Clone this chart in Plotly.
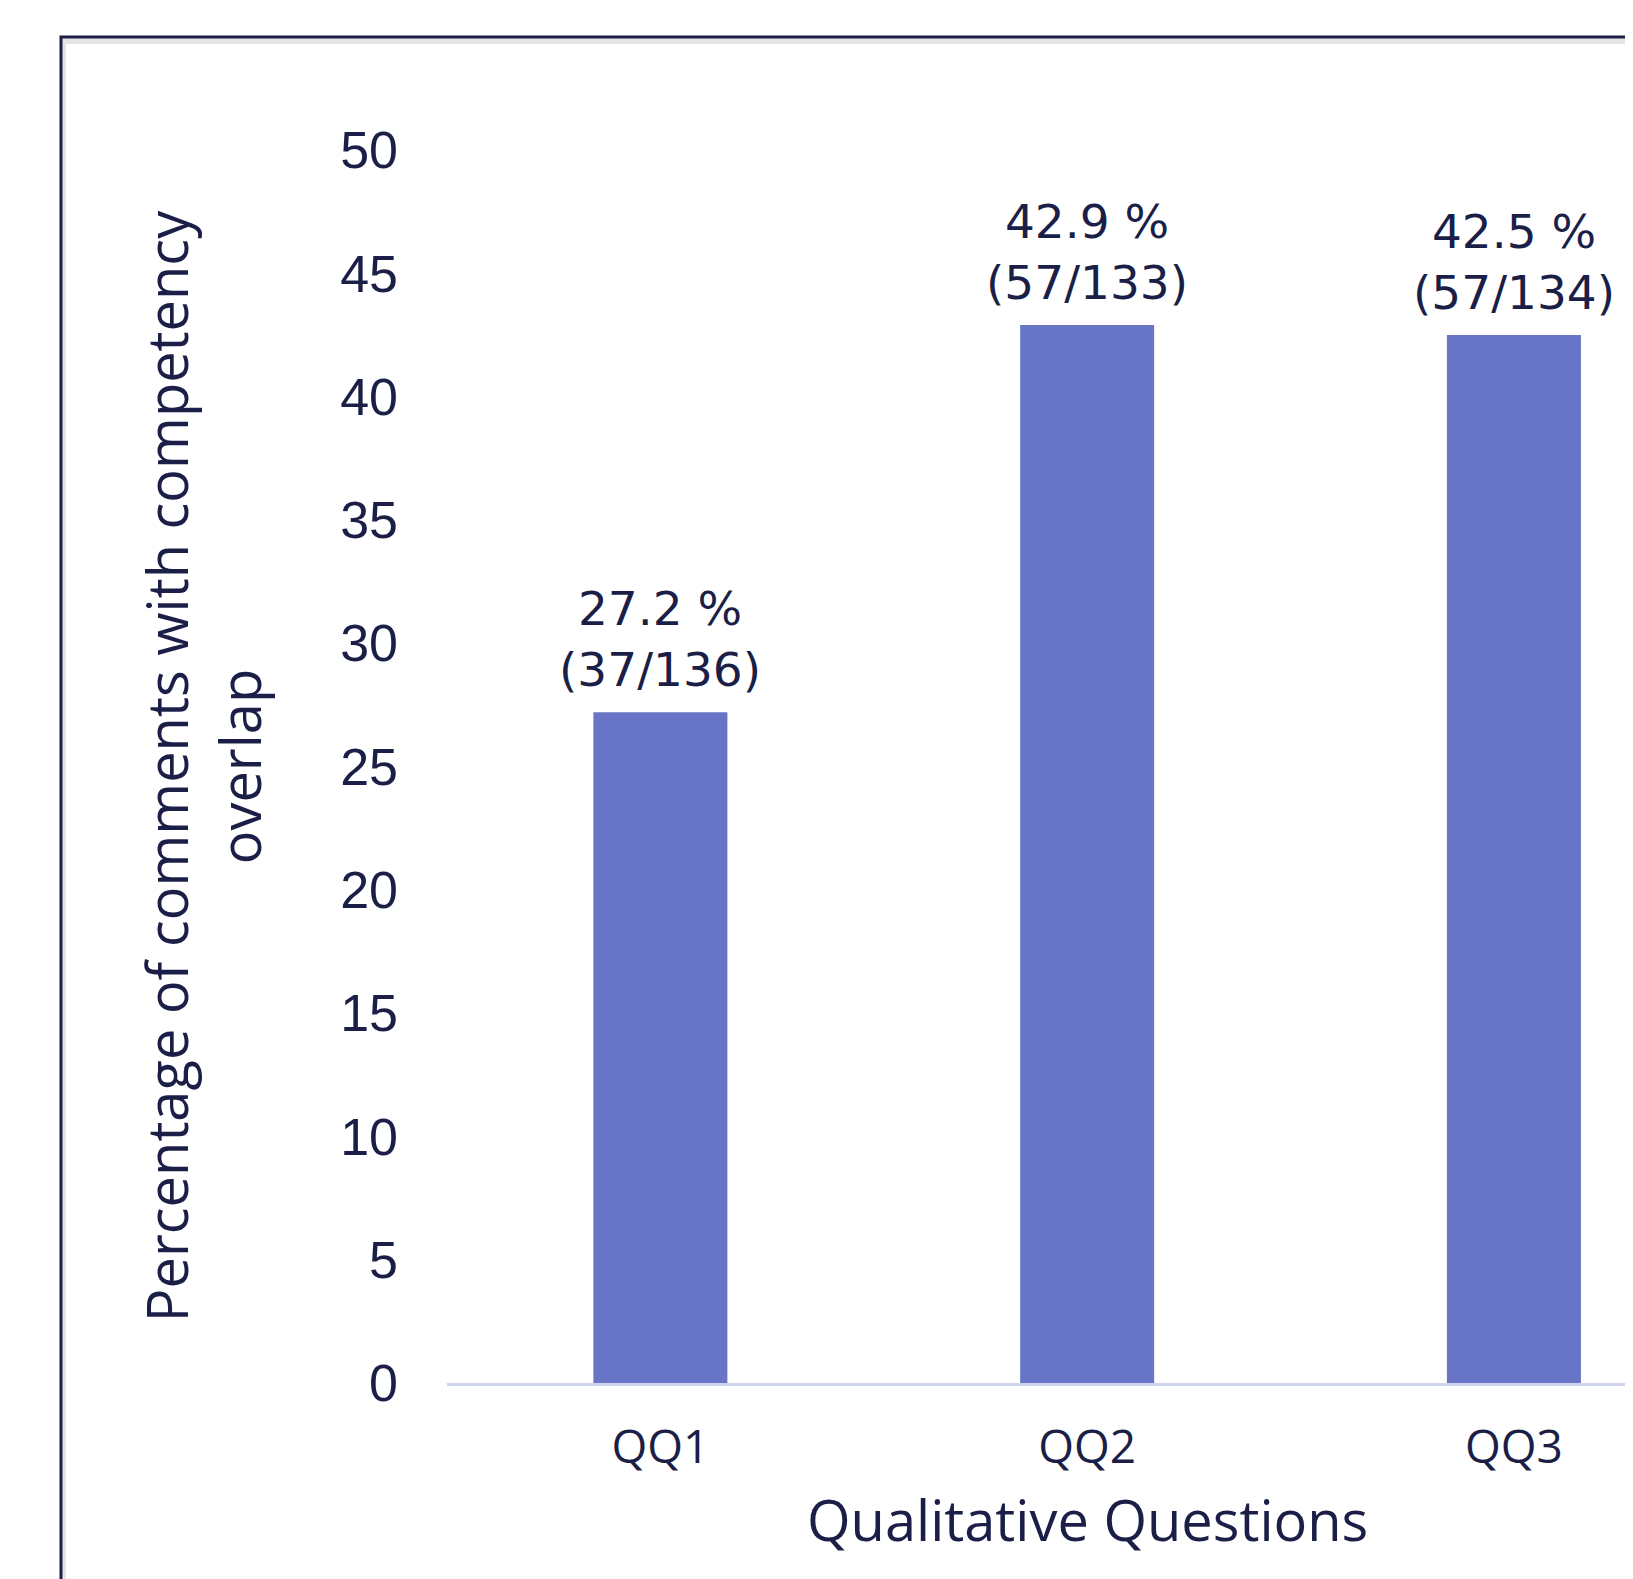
import plotly.graph_objects as go

categories = ["QQ1", "QQ2", "QQ3"]
percentages = [27.2, 42.9, 42.5]
counts = ["37/136", "57/133", "57/134"]
y_ticks = [0, 5, 10, 15, 20, 25, 30, 35, 40, 45, 50]

NAVY = "#1b1f47"
BAR = "#6874c6"

labels = [f"{p} %<br>({c})" for p, c in zip(percentages, counts)]

# the page body adds an 8px offset; figure coords = reference coords - 8
W, H = 1625, 1571
L, R, T, B = 439, 0, 142, 196

fig = go.Figure(
    go.Bar(
        x=categories,
        y=percentages,
        width=0.314,
        marker=dict(color=BAR, line=dict(width=0)),
        cliponaxis=False,
        hoverinfo="x+y",
    )
)

# data labels above each bar
for cat, val, lab in zip(categories, percentages, labels):
    fig.add_annotation(
        x=cat, y=val, xref="x", yref="y",
        text=lab, showarrow=False,
        xanchor="center", yanchor="bottom",
        yshift=13,
        font=dict(family="DejaVu Sans, sans-serif", size=47, color=NAVY),
    )

fig.update_layout(
    width=W,
    height=H,
    margin=dict(l=L, r=R, t=T, b=B, autoexpand=False),
    plot_bgcolor="white",
    paper_bgcolor="white",
    showlegend=False,
    xaxis=dict(
        type="category",
        range=[-0.5, 2.279],
        showline=True,
        linecolor="#d0d4ee",
        linewidth=3,
        showgrid=False,
        ticks="",
        tickfont=dict(family="Open Sans, sans-serif", size=46, color=NAVY),
        ticklabelstandoff=22,
    ),
    yaxis=dict(
        range=[0, 50],
        tickvals=y_ticks,
        showgrid=False,
        zeroline=False,
        showline=False,
        ticks="",
        tickfont=dict(family="Liberation Sans Narrow, Arial Narrow, Liberation Sans, sans-serif", size=52, color=NAVY),
        ticklabelstandoff=48,
        title=dict(
            text="Percentage of comments with competency<br>overlap",
            font=dict(family="Open Sans, sans-serif", size=56, color=NAVY),
            standoff=60,
        ),
    ),
)

pw = W - L - R
ph = H - T - B
def px_x(p):
    return (p - L) / pw
def px_y(p):
    return (H - B - p) / ph

# x-axis title (the reference plot area runs past the right edge, so its centre is off the visible domain)
fig.add_annotation(
    text="Qualitative Questions",
    xref="paper", yref="paper",
    x=px_x(1079), y=px_y(1511),
    xanchor="center", yanchor="middle",
    showarrow=False,
    font=dict(family="Open Sans, sans-serif", size=56, color=NAVY),
)

# soft shadow of the frame
fig.add_shape(type="rect", xref="paper", yref="paper",
              x0=px_x(55), y0=px_y(1700), x1=px_x(1800), y1=px_y(33),
              line=dict(color="rgba(0,0,0,0.10)", width=6), layer="below")
# frame
fig.add_shape(type="rect", xref="paper", yref="paper",
              x0=px_x(53), y0=px_y(1700), x1=px_x(1800), y1=px_y(29),
              line=dict(color="#1c2045", width=3), layer="below")

fig.write_html("out.html")
